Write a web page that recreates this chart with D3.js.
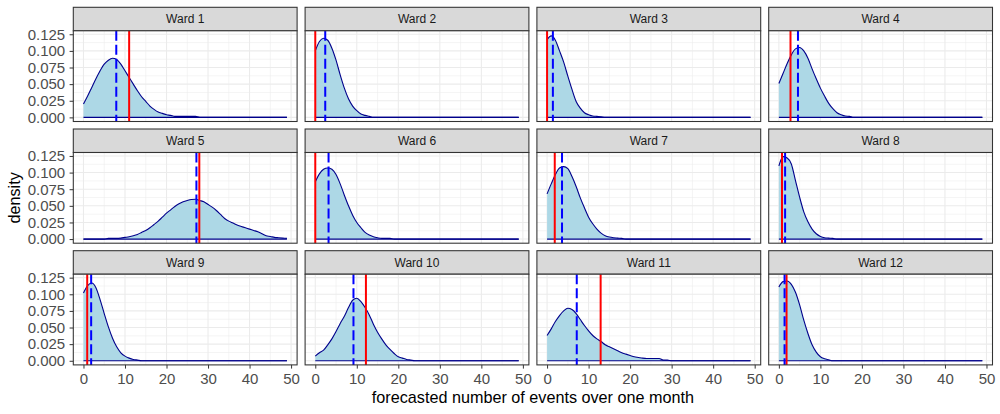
<!DOCTYPE html>
<html lang="en">
<head>
<meta charset="UTF-8">
<title>Forecasted events per ward</title>
<script src="https://d3js.org/d3.v7.min.js"></script>
<style>
  body { margin: 0; background: #fff; }
  svg { display: block; font-family: "Liberation Sans", Arial, sans-serif; }
  .strip-label { font-size: 12px; fill: #1A1A1A; }
  .axis text { font-size: 15px; fill: #4D4D4D; }
  .axis line { stroke: #333333; }
  .axis-title { font-size: 16.2px; fill: #000; }
</style>
</head>
<body>
<svg width="1000" height="414"></svg>
<script>
// number of events (x positions of the density estimate)
const eventCounts = [0,1,2,3,4,5,6,7,8,9,10,11,12,13,14,15,16,17,18,19,20,21,22,23,24,
                     25,26,27,28,29,30,31,32,33,34,35,36,37,38,39,40,41,42,43,44,45,46,47,48,49];

const wardNames = ["Ward 1","Ward 2","Ward 3","Ward 4","Ward 5","Ward 6",
                   "Ward 7","Ward 8","Ward 9","Ward 10","Ward 11","Ward 12"];

// forecast density per ward, one value per event count
const ward1 = [0.020,0.032,0.045,0.058,0.070,0.080,0.086,0.089,0.087,0.080,0.070,0.060,0.050,0.040,0.031,0.024,0.017,0.012,0.008,0.006,
               0.004,0.003,0.0015,0.0015,0.0015,0.0015,0.0015,0.0015,0,0,0,0,0,0,0,0,0,0,0,0,0,0,0,0,0,0,0,0,0,0];
const ward2 = [0.100,0.114,0.119,0.116,0.104,0.086,0.064,0.044,0.028,0.017,0.010,0.005,0.003,0.0015,0,0,0,0,0,0,
               0,0,0,0,0,0,0,0,0,0,0,0,0,0,0,0,0,0,0,0,0,0,0,0,0,0,0,0,0,0];
const ward3 = [0.117,0.1225,0.116,0.100,0.083,0.062,0.042,0.024,0.014,0.007,0.004,0.002,0.0015,0.001,0,0,0,0,0,0,
               0,0,0,0,0,0,0,0,0,0,0,0,0,0,0,0,0,0,0,0,0,0,0,0,0,0,0,0,0,0];
const ward4 = [0.051,0.066,0.081,0.094,0.103,0.105,0.100,0.089,0.073,0.058,0.044,0.032,0.021,0.013,0.007,0.004,0.002,0.0015,0,0,
               0,0,0,0,0,0,0,0,0,0,0,0,0,0,0,0,0,0,0,0,0,0,0,0,0,0,0,0,0,0];
const ward5 = [0,0,0,0,0,0,0.001,0.001,0.001,0.0015,0.0025,0.0035,0.005,0.007,0.010,0.013,0.017,0.022,0.027,0.033,
               0.039,0.044,0.049,0.053,0.056,0.058,0.0595,0.060,0.058,0.056,0.052,0.048,0.043,0.037,0.031,0.027,0.024,0.021,0.019,0.017,
               0.015,0.013,0.011,0.008,0.005,0.004,0.0025,0.002,0.0015,0.001];
const ward6 = [0.086,0.098,0.105,0.107,0.105,0.097,0.083,0.066,0.050,0.036,0.025,0.017,0.010,0.006,0.0035,0.002,0.001,0.001,0.001,0,
               0,0,0,0,0,0,0,0,0,0,0,0,0,0,0,0,0,0,0,0,0,0,0,0,0,0,0,0,0,0];
const ward7 = [0.068,0.083,0.097,0.107,0.109,0.106,0.094,0.079,0.062,0.047,0.033,0.023,0.015,0.009,0.005,0.003,0.002,0.0015,0.001,0,
               0,0,0,0,0,0,0,0,0,0,0,0,0,0,0,0,0,0,0,0,0,0,0,0,0,0,0,0,0,0];
const ward8 = [0.110,0.124,0.122,0.113,0.088,0.063,0.041,0.026,0.015,0.008,0.004,0.002,0.0015,0.001,0,0,0,0,0,0,
               0,0,0,0,0,0,0,0,0,0,0,0,0,0,0,0,0,0,0,0,0,0,0,0,0,0,0,0,0,0];
const ward9 = [0.102,0.113,0.117,0.110,0.092,0.071,0.051,0.034,0.021,0.012,0.007,0.004,0.002,0.001,0,0,0,0,0,0,
               0,0,0,0,0,0,0,0,0,0,0,0,0,0,0,0,0,0,0,0,0,0,0,0,0,0,0,0,0,0];
const ward10 = [0.007,0.012,0.016,0.024,0.033,0.044,0.056,0.067,0.080,0.091,0.094,0.089,0.080,0.069,0.055,0.043,0.033,0.024,0.017,0.011,
                0.006,0.004,0.002,0.001,0,0,0,0,0,0,0,0,0,0,0,0,0,0,0,0,0,0,0,0,0,0,0,0,0,0];
const ward11 = [0.038,0.048,0.059,0.068,0.075,0.079,0.077,0.071,0.062,0.053,0.045,0.038,0.033,0.029,0.024,0.021,0.018,0.015,0.012,0.010,
                0.008,0.006,0.005,0.004,0.0035,0.0035,0.0035,0.0035,0.001,0.001,0,0,0,0,0,0,0,0,0,0,0,0,0,0,0,0,0,0,0,0];
const ward12 = [0.111,0.119,0.120,0.115,0.103,0.084,0.061,0.041,0.024,0.013,0.006,0.003,0.0015,0,0,0,0,0,0,0,
                0,0,0,0,0,0,0,0,0,0,0,0,0,0,0,0,0,0,0,0,0,0,0,0,0,0,0,0,0,0];

// observed count (red) and forecast mean (blue dashed)
const observed     = [11, 0, 0, 2.8, 27.9, 0, 1.85, 0.75, 0.9, 12.2, 12.9, 1.85];
const forecastMean = [7.9, 2.4, 1.4, 4.6, 27.2, 3.2, 3.6, 1.5, 1.85, 9.2, 7.15, 1.37];

const xMajor = [0, 10, 20, 30, 40, 50];
const xMinor = [5, 15, 25, 35, 45];
const yMajor = [0, 0.025, 0.05, 0.075, 0.1, 0.125];
const yMinor = [0.0125, 0.0375, 0.0625, 0.0875, 0.1125];

const densities = [ward1, ward2, ward3, ward4, ward5, ward6, ward7, ward8, ward9, ward10, ward11, ward12];

// layout
const ncol = 4, nrow = 3;
const left0 = 73.3, colStep = 231.8, panelW = 223.8;
const top0 = 7.3, rowStep = 121.7, stripH = 23.5, panelH = 90.7;

const svg = d3.select("svg");

const allMax = d3.max(densities, d => d3.max(d));
const x = d3.scaleLinear()
    .domain([-0.05 * 49, 49 * 1.05])
    .range([0, panelW]);
const y = d3.scaleLinear()
    .domain([-0.05 * allMax, allMax * 1.05])
    .range([panelH, 0]);

const area = d3.area()
    .x(d => x(d[0]))
    .y0(y(0))
    .y1(d => y(d[1]))
    .curve(d3.curveMonotoneX);
const upper = d3.line()
    .x(d => x(d[0]))
    .y(d => y(d[1]))
    .curve(d3.curveMonotoneX);

wardNames.forEach((name, i) => {
    const col = i % ncol, row = Math.floor(i / ncol);
    const px = left0 + col * colStep;
    const stripTop = top0 + row * rowStep;
    const py = stripTop + stripH;

    // strip
    const strip = svg.append("g").attr("transform", `translate(${px},${stripTop})`);
    strip.append("rect")
        .attr("width", panelW).attr("height", stripH)
        .attr("fill", "#D9D9D9").attr("stroke", "#333333").attr("stroke-width", 1.07);
    strip.append("text")
        .attr("class", "strip-label")
        .attr("x", panelW / 2).attr("y", stripH / 2 + 4.3)
        .attr("text-anchor", "middle")
        .text(name);

    const g = svg.append("g").attr("transform", `translate(${px},${py})`);
    g.append("rect").attr("width", panelW).attr("height", panelH).attr("fill", "#fff");

    // grid
    g.selectAll(".gx-minor").data(xMinor).join("line")
        .attr("x1", d => x(d)).attr("x2", d => x(d)).attr("y1", 0).attr("y2", panelH)
        .attr("stroke", "#EBEBEB").attr("stroke-width", 0.55);
    g.selectAll(".gy-minor").data(yMinor).join("line")
        .attr("y1", d => y(d)).attr("y2", d => y(d)).attr("x1", 0).attr("x2", panelW)
        .attr("stroke", "#EBEBEB").attr("stroke-width", 0.55);
    g.selectAll(".gx-major").data(xMajor).join("line")
        .attr("x1", d => x(d)).attr("x2", d => x(d)).attr("y1", 0).attr("y2", panelH)
        .attr("stroke", "#EBEBEB").attr("stroke-width", 1.07);
    g.selectAll(".gy-major").data(yMajor).join("line")
        .attr("y1", d => y(d)).attr("y2", d => y(d)).attr("x1", 0).attr("x2", panelW)
        .attr("stroke", "#EBEBEB").attr("stroke-width", 1.07);

    const pts = eventCounts.map((c, k) => [c, densities[i][k]]);

    g.append("path").datum(pts)
        .attr("d", area)
        .attr("fill", "#ADD8E6");
    g.append("path").datum(pts)
        .attr("d", upper)
        .attr("fill", "none").attr("stroke", "#00008B").attr("stroke-width", 1.1);
    g.append("line")
        .attr("x1", x(eventCounts[0])).attr("x2", x(eventCounts[eventCounts.length - 1]))
        .attr("y1", y(0)).attr("y2", y(0))
        .attr("stroke", "#00008B").attr("stroke-width", 1.1);

    // observed and forecast mean
    g.append("line")
        .attr("x1", x(observed[i])).attr("x2", x(observed[i]))
        .attr("y1", 0).attr("y2", panelH)
        .attr("stroke", "#FF0000").attr("stroke-width", 2);
    g.append("line")
        .attr("x1", x(forecastMean[i])).attr("x2", x(forecastMean[i]))
        .attr("y1", 0).attr("y2", panelH)
        .attr("stroke", "#0000FF").attr("stroke-width", 2)
        .attr("stroke-dasharray", "10,4");

    g.append("rect").attr("width", panelW).attr("height", panelH)
        .attr("fill", "none").attr("stroke", "#333333").attr("stroke-width", 1.07);

    if (col === 0) {
        g.append("g").attr("class", "axis")
            .call(d3.axisLeft(y).tickValues(yMajor).tickFormat(d3.format(".3f"))
                .tickSize(3.7).tickPadding(4.4))
            .call(a => a.select(".domain").remove());
    }
    if (row === nrow - 1) {
        g.append("g").attr("class", "axis")
            .attr("transform", `translate(0,${panelH})`)
            .call(d3.axisBottom(x).tickValues(xMajor).tickSize(3.7).tickPadding(5))
            .call(a => a.select(".domain").remove());
    }
});

const plotLeft = left0, plotRight = left0 + (ncol - 1) * colStep + panelW;
const plotTop = top0 + stripH, plotBottom = top0 + (nrow - 1) * rowStep + stripH + panelH;

svg.append("text")
    .attr("class", "axis-title")
    .attr("x", (plotLeft + plotRight) / 2)
    .attr("y", 403)
    .attr("text-anchor", "middle")
    .text("forecasted number of events over one month");

svg.append("text")
    .attr("class", "axis-title")
    .attr("transform", `translate(20,${(plotTop + plotBottom) / 2}) rotate(-90)`)
    .attr("text-anchor", "middle")
    .text("density");
</script>
</body>
</html>
